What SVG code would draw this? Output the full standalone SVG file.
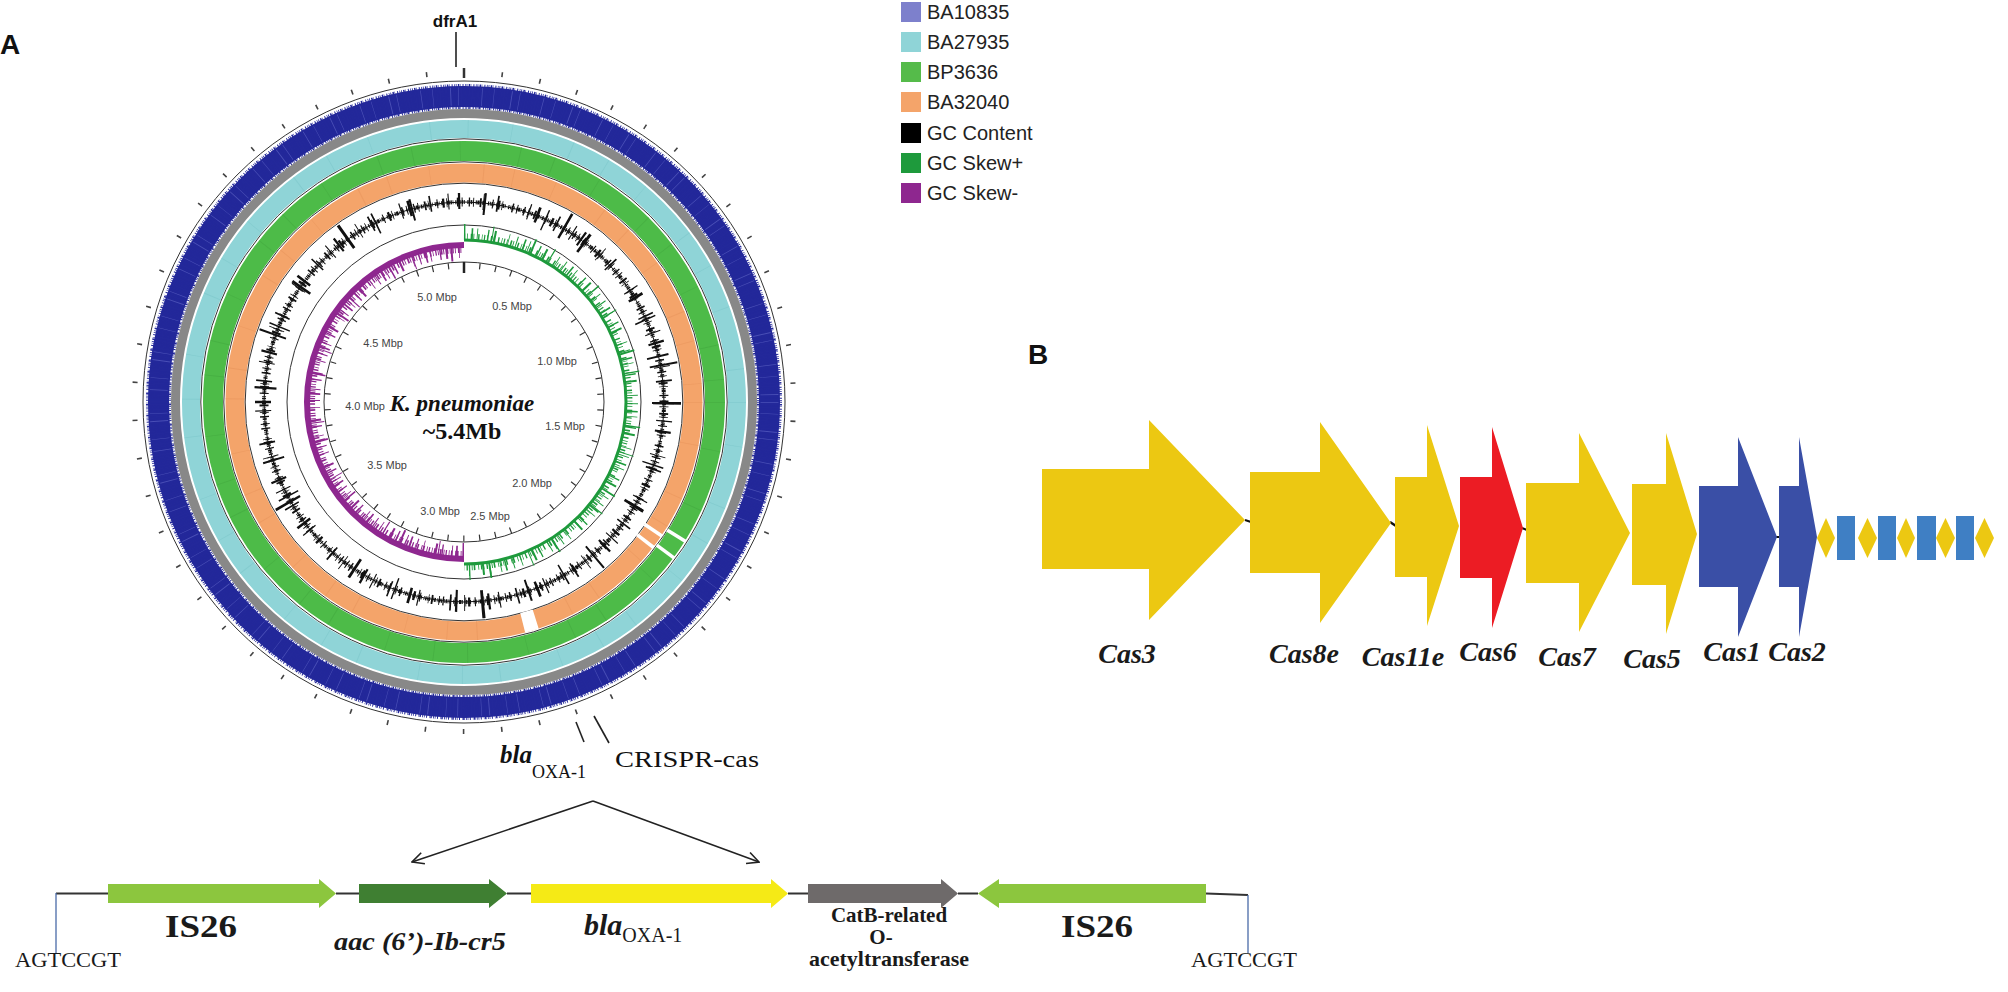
<svg xmlns="http://www.w3.org/2000/svg" width="2008" height="992" viewBox="0 0 2008 992">
<defs>
<style>
.sans{font-family:"Liberation Sans",Arial,sans-serif;}
.serif{font-family:"Liberation Serif","Times New Roman",serif;}
.leg{font-family:"Liberation Sans",Arial,sans-serif;font-size:20px;fill:#222;}
.mbp{font-family:"Liberation Sans",Arial,sans-serif;font-size:11px;fill:#444;text-anchor:middle;}
.cas{font-family:"Liberation Serif","Times New Roman",serif;font-size:28px;font-weight:bold;font-style:italic;fill:#1a1a1a;text-anchor:middle;}
.glab{font-family:"Liberation Serif","Times New Roman",serif;font-weight:bold;fill:#1a1a1a;text-anchor:middle;}
.ring{fill:none;}
.sep{fill:none;stroke:#333;stroke-width:1;}
.yel{fill:#ecc812;}
.conn{stroke:#222;stroke-width:1.6;fill:none;}
.gc{fill:none;stroke:#111;}
.gp{fill:none;stroke:#1e9a3c;}
.gm{fill:none;stroke:#8e278f;}
</style>
<marker id="vhead" viewBox="0 0 12 12" refX="11" refY="6" markerWidth="14" markerHeight="14" markerUnits="userSpaceOnUse" orient="auto">
<path d="M1,1 L11,6 L1,11" fill="none" stroke="#222" stroke-width="1.4"/>
</marker>
</defs>
<rect width="2008" height="992" fill="#fff"/>

<!-- Panel A: circular map -->
<g id="panelA-map">
<text class="sans" x="0" y="54" font-size="28" font-weight="bold" fill="#111">A</text>
<!-- outer ticks -->
<circle cx="464" cy="402" r="329.5" fill="none" stroke="#444" stroke-width="5" stroke-dasharray="1.6 36.739" stroke-dashoffset="0.8" transform="rotate(-90 464 402)"/>
<line x1="464" y1="68" x2="464" y2="78" stroke="#333" stroke-width="2.5"/>
<circle class="sep" cx="464" cy="402" r="321" stroke-width="1.4"/>
<!-- blue ring -->
<circle class="ring" cx="464" cy="402" r="305.5" stroke="#23289a" stroke-width="21"/>
<circle class="ring" cx="464" cy="402" r="305.5" stroke="#23289a" stroke-width="25" stroke-dasharray="0.8 1.2 1.5 0.6 0.5 2 1 1.4 0.7 0.9"/>
<circle class="ring" cx="464" cy="402" r="305.5" stroke="#5a5fc2" stroke-width="18" stroke-dasharray="0.7 11 0.5 17 0.9 7 0.6 23" opacity="0.7"/>
<!-- gray ring -->
<circle class="ring" cx="464" cy="402" r="288.5" stroke="#888" stroke-width="9"/>
<!-- cyan ring -->
<circle class="ring" cx="464" cy="402" r="273" stroke="#8fd4d7" stroke-width="18"/>
<circle class="ring" cx="464" cy="402" r="273" stroke="#7cc6c9" stroke-width="18" stroke-dasharray="0.8 43 0.6 61 0.9 37" opacity="0.6"/>
<circle class="sep" cx="464" cy="402" r="263.2"/>
<!-- green ring -->
<circle class="ring" cx="464" cy="402" r="251" stroke="#4dbb48" stroke-width="20"/>
<circle class="ring" cx="464" cy="402" r="251" stroke="#43a83f" stroke-width="20" stroke-dasharray="0.8 47 0.6 59 0.9 33" opacity="0.6"/>
<circle class="sep" cx="464" cy="402" r="240.2"/>
<!-- orange ring -->
<circle class="ring" cx="464" cy="402" r="229" stroke="#f4a46a" stroke-width="19"/>
<circle class="ring" cx="464" cy="402" r="229" stroke="#e8955c" stroke-width="19" stroke-dasharray="0.8 41 0.6 53 0.9 29" opacity="0.6"/>
<circle class="sep" cx="464" cy="402" r="218.8"/>
<!-- gaps -->
<g stroke="#fff" stroke-width="3.5">
<line x1="644.5" y1="524.2" x2="661.9" y2="536.0"/>
<line x1="637.0" y1="534.7" x2="653.6" y2="547.5"/>
<line x1="667.1" y1="529.9" x2="685.7" y2="541.6"/>
<line x1="656.7" y1="545.1" x2="674.3" y2="558.2"/>
</g>
<path d="M535.7,619.1 A228.5,228.5 0 0 1 522.7,622.8" fill="none" stroke="#fff" stroke-width="20"/>
<!-- GC content -->
<circle class="gc" cx="464" cy="402" r="200" stroke-width="1"/>
<circle class="gc" cx="464" cy="402" r="200" stroke-width="4" stroke-dasharray="0.9 0.6 1.4 0.8 0.7 1.9 1.1 0.5 2.2 0.9 0.6 1.2 1.6 0.7 0.8 2.6 1.2 0.9"/>
<circle class="gc" cx="464" cy="402" r="200" stroke-width="9" stroke-dasharray="1.3 3.1 0.9 5.7 1.8 2.2 0.7 7.9 1.1 4.4 2.3 1.9 0.8 9.6 1.5 3.3 1 6.2"/>
<circle class="gc" cx="464" cy="402" r="201" stroke-width="16" stroke-dasharray="1.6 17 1.1 9 2.2 23 0.9 13 1.7 31 1.2 7 2.6 19"/>
<circle class="gc" cx="464" cy="402" r="199" stroke-width="22" stroke-dasharray="2.2 61 1.4 43 2.8 97 1.6 37 2 71"/>
<circle class="gc" cx="464" cy="402" r="203" stroke-width="28" stroke-dasharray="2.5 173 2 121 3 229"/>
<circle class="sep" cx="464" cy="402" r="177" stroke-width="1.3"/>
<!-- GC skew + (right half) -->
<path class="gp" d="M464,240 A162,162 0 0 1 464,564" stroke-width="3"/>
<path class="gp" d="M464,237 A165,165 0 0 1 464,567" stroke-width="7" stroke-dasharray="1.2 1.8 0.8 2.9 1.6 1.1 0.9 3.8 1.4 2.3 0.7 1.5"/>
<path class="gp" d="M464,234 A168,168 0 0 1 464,570" stroke-width="12" stroke-dasharray="1 6.5 1.6 3.9 0.9 9.8 1.3 5.1 2 12.7 0.8 7.4"/>
<path class="gp" d="M464,232 A170,170 0 0 1 464,572" stroke-width="16" stroke-dasharray="1.4 27 1 41 1.8 19 1.2 53"/>
<!-- GC skew - (left half) -->
<path class="gm" d="M464,559 A157,157 0 0 1 464,245" stroke-width="6"/>
<path class="gm" d="M464,554.5 A152.5,152.5 0 0 1 464,249.5" stroke-width="7" stroke-dasharray="1.3 1.2 0.9 2.1 1.7 0.8 1 2.7 1.5 1.4 0.8 1.9"/>
<path class="gm" d="M464,552 A150,150 0 0 1 464,252" stroke-width="12" stroke-dasharray="1.1 5.3 1.7 3.2 0.9 8.7 1.4 4.6 2.1 11.3 0.8 6.2"/>
<path class="gm" d="M464,550 A148,148 0 0 1 464,254" stroke-width="14" stroke-dasharray="1.5 23 1 37 2 17 1.2 47"/>
<!-- scale -->
<circle class="sep" cx="464" cy="402" r="140" stroke-width="1.3"/>
<circle cx="464" cy="402" r="136.5" fill="none" stroke="#333" stroke-width="6" stroke-dasharray="1.2 14.682" stroke-dashoffset="0.6" transform="rotate(-90 464 402)"/>
<line x1="464" y1="262" x2="464" y2="273" stroke="#222" stroke-width="2.5"/>
<text class="mbp" x="437" y="301">5.0 Mbp</text>
<text class="mbp" x="512" y="310">0.5 Mbp</text>
<text class="mbp" x="383" y="347">4.5 Mbp</text>
<text class="mbp" x="557" y="365">1.0 Mbp</text>
<text class="mbp" x="365" y="410">4.0 Mbp</text>
<text class="mbp" x="565" y="430">1.5 Mbp</text>
<text class="mbp" x="387" y="469">3.5 Mbp</text>
<text class="mbp" x="532" y="487">2.0 Mbp</text>
<text class="mbp" x="440" y="515">3.0 Mbp</text>
<text class="mbp" x="490" y="520">2.5 Mbp</text>
<text class="serif" x="462" y="411" font-size="23" font-weight="bold" font-style="italic" text-anchor="middle" fill="#111">K. pneumoniae</text>
<text class="serif" x="462" y="439" font-size="24" font-weight="bold" text-anchor="middle" fill="#111">~5.4Mb</text>
</g>

<!-- Panel A labels -->
<g id="label-dfrA1">
<text class="sans" x="455" y="27" font-size="17" font-weight="bold" text-anchor="middle" fill="#111">dfrA1</text>
</g>
<g id="label-blaOXA1-circ">
<text class="serif" x="500" y="763" font-size="25" font-weight="bold" font-style="italic" fill="#111">bla<tspan y="778" font-size="18" font-weight="normal" font-style="normal">OXA-1</tspan></text>
</g>
<g id="label-crispr">
<text class="serif" x="615" y="767" font-size="24" fill="#111" textLength="144" lengthAdjust="spacingAndGlyphs">CRISPR-cas</text>
</g>

<!-- Legend -->
<g id="legend">
<rect x="901" y="2" width="20" height="20" fill="#7d80cc"/>
<text class="leg" x="927" y="19">BA10835</text>
<rect x="901" y="32" width="20" height="20" fill="#8fd4d7"/>
<text class="leg" x="927" y="49">BA27935</text>
<rect x="901" y="62" width="20" height="20" fill="#55bb4a"/>
<text class="leg" x="927" y="79">BP3636</text>
<rect x="901" y="92" width="20" height="20" fill="#f4a46a"/>
<text class="leg" x="927" y="109">BA32040</text>
<rect x="901" y="123" width="20" height="20" fill="#000"/>
<text class="leg" x="927" y="140">GC Content</text>
<rect x="901" y="153" width="20" height="20" fill="#1e9a3c"/>
<text class="leg" x="927" y="170">GC Skew+</text>
<rect x="901" y="183" width="20" height="20" fill="#8e278f"/>
<text class="leg" x="927" y="200">GC Skew-</text>
</g>

<!-- Bottom linear map -->
<g id="linear-genes">
<g id="gene-IS26-left"><polygon points="108,884 319,884 319,879 336,893.5 319,908 319,903 108,903" fill="#8cc63e"/>
<text class="glab" x="201" y="937" font-size="32" textLength="72" lengthAdjust="spacingAndGlyphs">IS26</text></g>
<g id="gene-aac"><polygon points="359,884 489,884 489,879 507,893.5 489,908 489,903 359,903" fill="#3f7f32"/>
<text class="glab" x="420" y="950" font-size="25" font-style="italic" textLength="172" lengthAdjust="spacingAndGlyphs">aac (6’)-Ib-cr5</text></g>
<g id="gene-bla"><polygon points="531,884 771,884 771,879 788,893.5 771,908 771,903 531,903" fill="#f5ea16"/>
<text class="serif" x="584" y="935" font-size="30" font-weight="bold" font-style="italic" fill="#1a1a1a">bla<tspan y="942" font-size="20" font-weight="normal" font-style="normal">OXA-1</tspan></text></g>
<g id="gene-catB"><polygon points="808,884 941,884 941,879 958,893.5 941,908 941,903 808,903" fill="#6e6a6a"/>
<text class="glab" x="889" y="922" font-size="21">CatB-related</text>
<text class="glab" x="881" y="944" font-size="21">O-</text>
<text class="glab" x="889" y="966" font-size="21" textLength="160" lengthAdjust="spacingAndGlyphs">acetyltransferase</text></g>
<g id="gene-IS26-right"><polygon points="1206,884 999,884 999,879 978,893.5 999,908 999,903 1206,903" fill="#8cc63e"/>
<text class="glab" x="1097" y="937" font-size="32" textLength="72" lengthAdjust="spacingAndGlyphs">IS26</text></g>
<g id="site-left"><text class="serif" x="68" y="967" font-size="21" text-anchor="middle" fill="#1a1a1a" textLength="106" lengthAdjust="spacingAndGlyphs">AGTCCGT</text></g>
<g id="site-right"><text class="serif" x="1244" y="967" font-size="21" text-anchor="middle" fill="#1a1a1a" textLength="106" lengthAdjust="spacingAndGlyphs">AGTCCGT</text></g>
</g>

<!-- Connectors -->
<g id="connectors">
<line x1="456" y1="32" x2="456" y2="67" class="conn"/>
<line x1="576" y1="722" x2="584" y2="742" class="conn"/>
<line x1="594" y1="716" x2="609" y2="743" class="conn"/>
<line x1="593" y1="801" x2="412" y2="862" class="conn" marker-end="url(#vhead)"/>
<line x1="593" y1="801" x2="759" y2="862" class="conn" marker-end="url(#vhead)"/>
<line x1="56" y1="893.5" x2="108" y2="893.5" stroke="#333" stroke-width="2"/>
<line x1="336" y1="893.5" x2="359" y2="893.5" stroke="#333" stroke-width="2"/>
<line x1="507" y1="893.5" x2="531" y2="893.5" stroke="#333" stroke-width="2"/>
<line x1="788" y1="893.5" x2="808" y2="893.5" stroke="#333" stroke-width="2"/>
<line x1="958" y1="893.5" x2="978" y2="893.5" stroke="#333" stroke-width="2"/>
<line x1="1206" y1="893.5" x2="1248" y2="895" stroke="#333" stroke-width="2"/>
<line x1="56" y1="893" x2="56" y2="953" stroke="#4a6aa8" stroke-width="1.3"/>
<line x1="1248" y1="895" x2="1248" y2="953" stroke="#4a6aa8" stroke-width="1.3"/>
<line x1="1245" y1="520" x2="1251" y2="522" stroke="#111" stroke-width="2"/>
<line x1="1390" y1="522" x2="1396" y2="526" stroke="#111" stroke-width="2.5"/>
<line x1="1522" y1="528" x2="1527" y2="530" stroke="#111" stroke-width="2"/>
<line x1="1776" y1="537" x2="1780" y2="537" stroke="#111" stroke-width="2"/>
</g>

<!-- Panel B -->
<g id="panelB">
<text class="sans" x="1028" y="364" font-size="28" font-weight="bold" fill="#111">B</text>
<g id="cas3"><polygon class="yel" points="1042,469 1149,469 1149,420 1245,520 1149,620 1149,569 1042,569"/><text class="cas" x="1127" y="663">Cas3</text></g>
<g id="cas8e"><polygon class="yel" points="1250,472 1320,472 1320,422 1391,523 1320,623 1320,573 1250,573"/><text class="cas" x="1304" y="663">Cas8e</text></g>
<g id="cas11e"><polygon class="yel" points="1395,477 1427,477 1427,425 1459,526 1427,626 1427,577 1395,577"/><text class="cas" x="1403" y="666">Cas11e</text></g>
<g id="cas6"><polygon points="1460,477 1492,477 1492,427 1523,528 1492,628 1492,578 1460,578" fill="#ec1c24"/><text class="cas" x="1488" y="661">Cas6</text></g>
<g id="cas7"><polygon class="yel" points="1526,483 1579,483 1579,433 1630,533 1579,632 1579,583 1526,583"/><text class="cas" x="1567" y="666">Cas7</text></g>
<g id="cas5"><polygon class="yel" points="1632,484 1666,484 1666,433 1697,534 1666,634 1666,585 1632,585"/><text class="cas" x="1652" y="668">Cas5</text></g>
<g id="cas1"><polygon points="1699,486 1738,486 1738,437 1777,537 1738,637 1738,587 1699,587" fill="#3a4fa6"/><text class="cas" x="1732" y="661">Cas1</text></g>
<g id="cas2"><polygon points="1779,486 1799,486 1799,437 1817,537 1799,637 1799,587 1779,587" fill="#3a4fa6"/><text class="cas" x="1797" y="661">Cas2</text></g>
<g id="crispr-array">
<polygon class="yel" points="1817,538 1826,518 1835,538 1826,558"/>
<rect x="1837" y="516" width="18" height="44" fill="#3f7fc4"/>
<polygon class="yel" points="1858,538 1867.5,518 1877,538 1867.5,558"/>
<rect x="1878" y="516" width="18" height="44" fill="#3f7fc4"/>
<polygon class="yel" points="1897,538 1906,518 1915,538 1906,558"/>
<rect x="1917" y="516" width="19" height="44" fill="#3f7fc4"/>
<polygon class="yel" points="1936,538 1945.5,518 1955,538 1945.5,558"/>
<rect x="1956" y="516" width="18" height="44" fill="#3f7fc4"/>
<polygon class="yel" points="1975,538 1984.5,518 1994,538 1984.5,558"/>
</g>
</g>
</svg>
